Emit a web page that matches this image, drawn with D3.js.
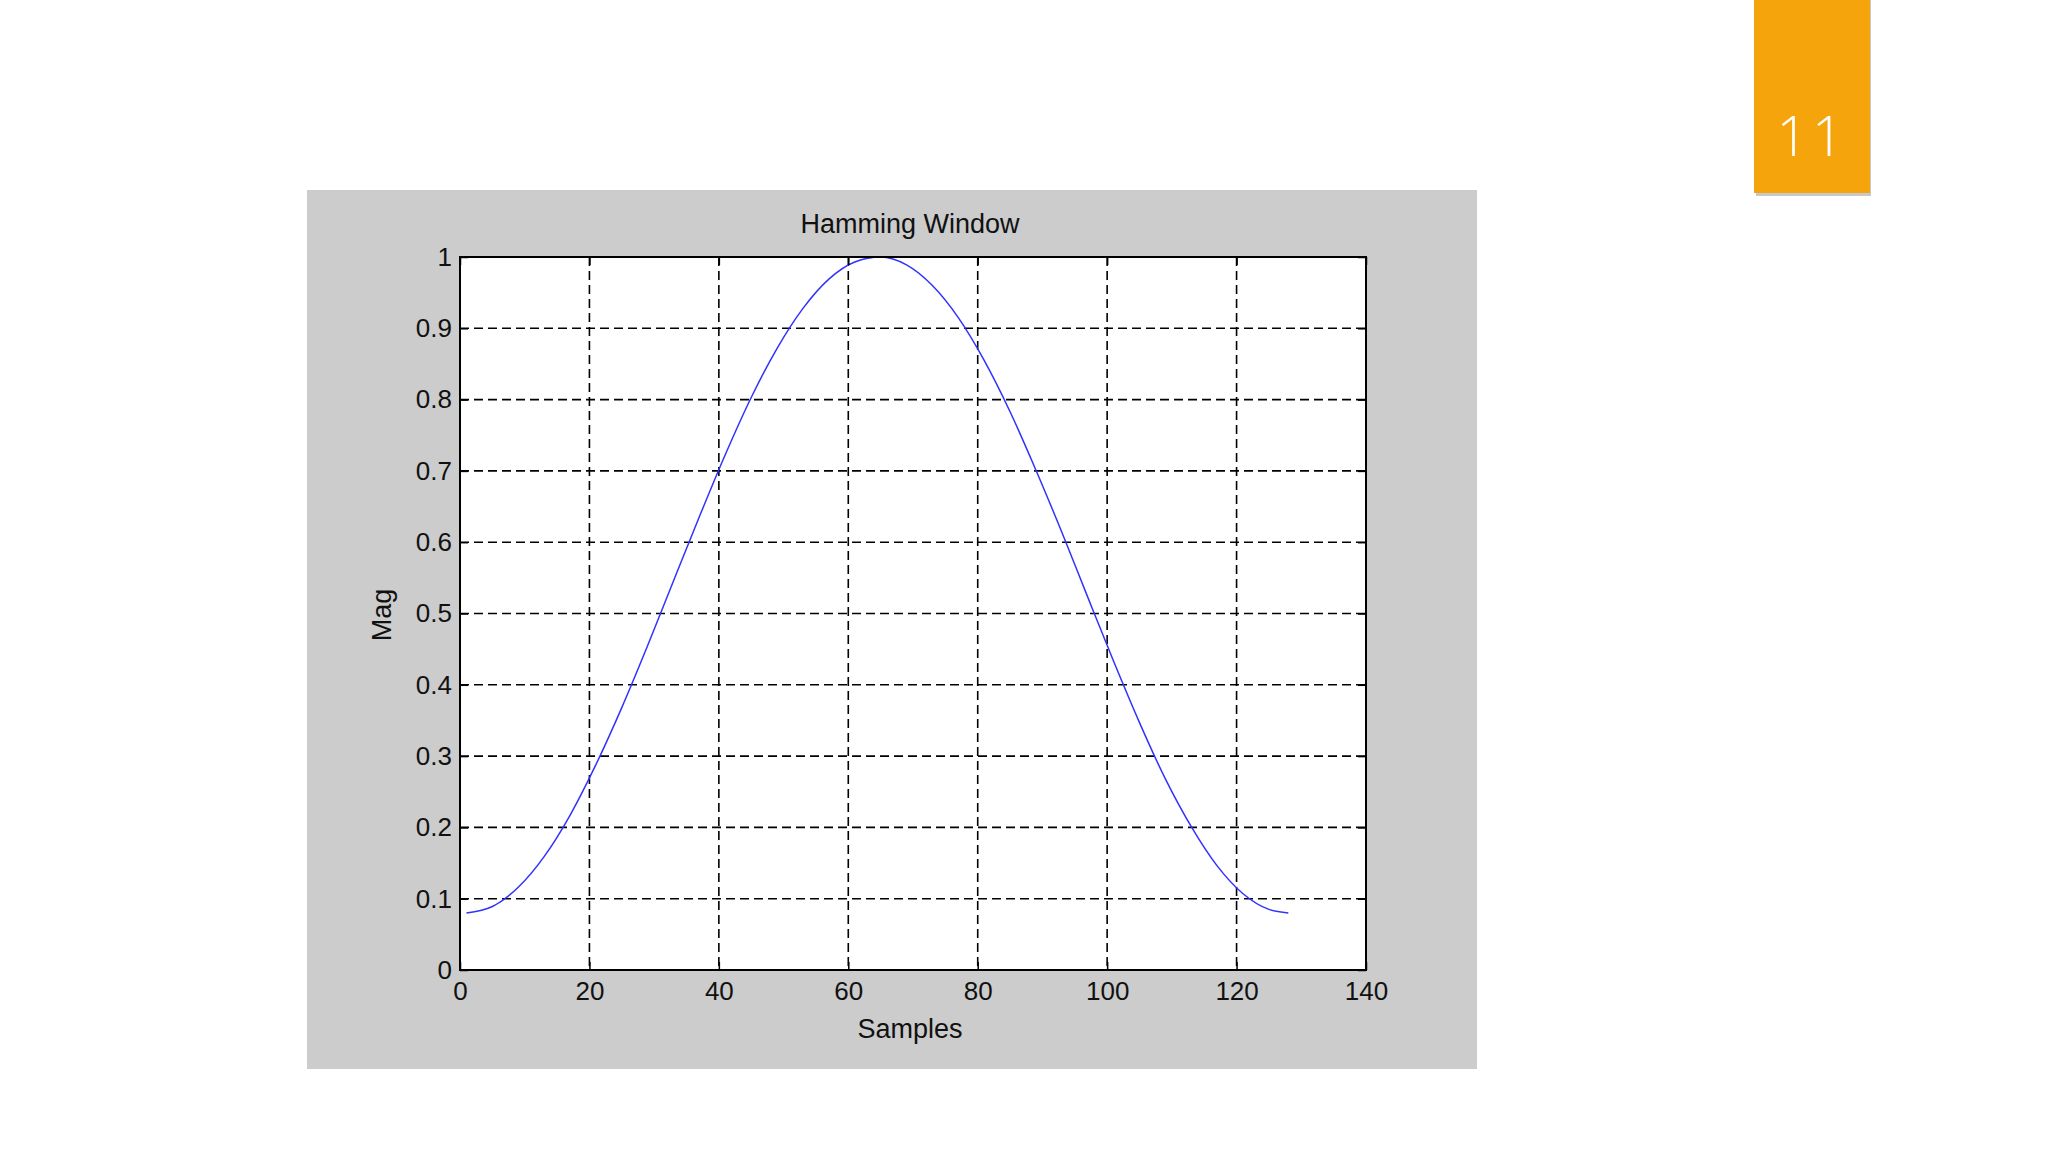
<!DOCTYPE html>
<html>
<head>
<meta charset="utf-8">
<script src="https://cdn.jsdelivr.net/npm/d3@7"></script>
<style>
  html, body { margin: 0; padding: 0; background: #ffffff; }
  svg { display: block; }
</style>
</head>
<body>
<script>
// ---- data ----
const sampleX = [1, 5, 9, 13, 17, 21, 25, 29, 33, 37, 41, 45, 49, 53, 57, 61, 65,
                 69, 73, 77, 81, 85, 89, 93, 97, 101, 105, 109, 113, 117, 121, 125, 128];
const magValues = [0.080, 0.089, 0.116, 0.159, 0.217, 0.288, 0.368, 0.455, 0.546, 0.636, 0.723,
                   0.803, 0.872, 0.928, 0.969, 0.993, 1.000, 0.989, 0.960, 0.915, 0.855, 0.783,
                   0.701, 0.614, 0.523, 0.433, 0.347, 0.268, 0.201, 0.146, 0.107, 0.085, 0.080];
const xTicks = [0, 20, 40, 60, 80, 100, 120, 140];
const yTicks = [0, 0.1, 0.2, 0.3, 0.4, 0.5, 0.6, 0.7, 0.8, 0.9, 1];
const titleText = "Hamming Window";
const xLabelText = "Samples";
const yLabelText = "Mag";
const slideNumber = "11";

const W = 2048, H = 1152;
const svg = d3.select("body").append("svg").attr("width", W).attr("height", H);

// slide background
svg.append("rect").attr("width", W).attr("height", H).attr("fill", "#ffffff");

// slide number badge
svg.append("rect").attr("x", 1756).attr("y", 0).attr("width", 115).attr("height", 196)
  .attr("fill", "#9a9a9a").attr("opacity", 0.55);
svg.append("rect").attr("x", 1754).attr("y", 0).attr("width", 116).attr("height", 193)
  .attr("fill", "#f5a40b");
svg.append("text").attr("x", 1812).attr("y", 156).attr("text-anchor", "middle")
  .attr("font-family", "'Open Sans', Lato, sans-serif").attr("font-weight", 300)
  .attr("font-size", 55).attr("letter-spacing", 4).attr("fill", "#ffffff").text(slideNumber);

// figure panel
svg.append("rect").attr("x", 307).attr("y", 190).attr("width", 1170).attr("height", 879)
  .attr("fill", "#cccccc");

const L = 460, R = 1366, T = 257, B = 970;
const x = d3.scaleLinear().domain([0, 140]).range([L, R]);
const y = d3.scaleLinear().domain([0, 1]).range([B, T]);

svg.append("rect").attr("x", L).attr("y", T).attr("width", R - L).attr("height", B - T)
  .attr("fill", "#ffffff");

const font = "'Liberation Sans', Arial, Helvetica, sans-serif";

// grid lines
const grid = svg.append("g").attr("stroke", "#000").attr("stroke-width", 1.6)
  .attr("stroke-dasharray", "9,5");
grid.selectAll("line.vx").data(xTicks.filter(d => d > 0 && d < 140)).join("line")
  .attr("x1", d => x(d)).attr("x2", d => x(d)).attr("y1", T).attr("y2", B);
grid.selectAll("line.hy").data(yTicks.filter(d => d > 0 && d < 1)).join("line")
  .attr("x1", L).attr("x2", R).attr("y1", d => y(d)).attr("y2", d => y(d));

// curve
const line = d3.line().x((d, i) => x(sampleX[i])).y(d => y(d)).curve(d3.curveMonotoneX);
svg.append("path").datum(magValues).attr("d", line).attr("fill", "none")
  .attr("stroke", "#3232ff").attr("stroke-width", 1.5);

// axes (MATLAB style: inward ticks)
const xAxisB = d3.axisBottom(x).tickValues(xTicks).tickSize(-8).tickPadding(12).tickFormat(d3.format("d"));
const xAxisT = d3.axisTop(x).tickValues(xTicks).tickSize(-8).tickFormat("");
const yAxisL = d3.axisLeft(y).tickValues(yTicks).tickSize(-8).tickPadding(8).tickFormat(d => d3.format("")(d));
const yAxisR = d3.axisRight(y).tickValues(yTicks).tickSize(-8).tickFormat("");

function style(g) {
  g.select(".domain").remove();
  g.selectAll(".tick line").attr("stroke", "#000").attr("stroke-width", 1.5);
  g.selectAll("text").attr("font-family", font).attr("font-size", 26).attr("fill", "#111");
}
svg.append("g").attr("transform", `translate(0,${B})`).call(xAxisB).call(style);
svg.append("g").attr("transform", `translate(0,${T})`).call(xAxisT).call(style);
svg.append("g").attr("transform", `translate(${L},0)`).call(yAxisL).call(style);
svg.append("g").attr("transform", `translate(${R},0)`).call(yAxisR).call(style);

// box
svg.append("rect").attr("x", L).attr("y", T).attr("width", R - L).attr("height", B - T)
  .attr("fill", "none").attr("stroke", "#000").attr("stroke-width", 2);

// titles
svg.append("text").attr("x", (L + R) / 2 - 3).attr("y", 233).attr("text-anchor", "middle")
  .attr("font-family", font).attr("font-size", 27).attr("fill", "#111").text(titleText);
svg.append("text").attr("x", (L + R) / 2 - 3).attr("y", 1038).attr("text-anchor", "middle")
  .attr("font-family", font).attr("font-size", 27).attr("fill", "#111").text(xLabelText);
svg.append("text").attr("transform", "translate(391,615) rotate(-90)").attr("text-anchor", "middle")
  .attr("font-family", font).attr("font-size", 27).attr("fill", "#111").text(yLabelText);
</script>
</body>
</html>
